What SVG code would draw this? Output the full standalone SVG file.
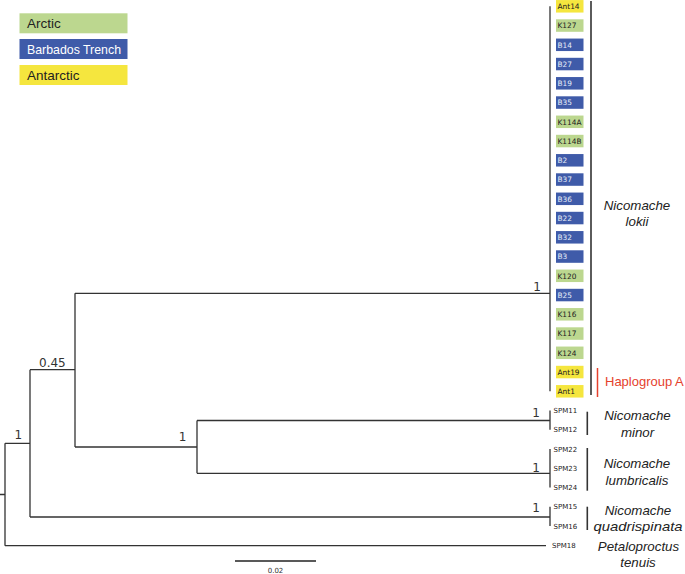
<svg xmlns="http://www.w3.org/2000/svg" width="685" height="574" viewBox="0 0 685 574">
<style>
.br{fill:none;stroke:#333;stroke-width:1.3}
.bar{fill:none;stroke:#333;stroke-width:1.6}
.lg{font-family:"Liberation Sans",Arial,sans-serif;font-size:13.5px}
.tip{font-family:"DejaVu Sans",Verdana,sans-serif;font-size:7.4px}
.spm{font-family:"DejaVu Sans",Verdana,sans-serif;font-size:7px;fill:#222}
.sup{font-family:"DejaVu Sans",Verdana,sans-serif;font-size:12px;fill:#333}
.sp{font-family:"Liberation Sans",Arial,sans-serif;font-size:13.3px;font-style:italic;fill:#222;text-anchor:middle}
.g{fill:#bcd78f}.b{fill:#3f5ba9}.y{fill:#f5e63e}
.tb{fill:#e6ecf8}.tk{fill:#222}
</style>
<rect width="685" height="574" fill="#fff"/>
<g id="legend">
<rect class="g" x="19.5" y="13.3" width="108" height="20"/>
<text class="lg" x="27" y="28.3" fill="#222">Arctic</text>
<rect class="b" x="19.5" y="39" width="108" height="20"/>
<text class="lg" x="27" y="54.2" fill="#fff" textLength="94" lengthAdjust="spacingAndGlyphs">Barbados Trench</text>
<rect class="y" x="19.5" y="65" width="108" height="20"/>
<text class="lg" x="27" y="80" fill="#222">Antarctic</text>
</g>
<g id="connectors">
<path class="br" d="M0 494.5H5M5 443.3V545.7M5 443.3H30M5 545.7H546M30 369.7V517M30 517H550M550 506.8V526.1M30 369.7H75M75 293.3V447M75 293.3H550M550 6.3V391.3M75 447H197M197 420.5V473.3M197 420.5H550M550 410.5V429.8M197 473.3H550M550 449V487.6"/>
</g>
<g id="support">
<text class="sup" x="537" y="290.5" text-anchor="middle">1</text>
<text class="sup" x="39" y="366.5">0.45</text>
<text class="sup" x="18.3" y="439.3" text-anchor="middle">1</text>
<text class="sup" x="182.5" y="441" text-anchor="middle">1</text>
<text class="sup" x="536" y="416.7" text-anchor="middle">1</text>
<text class="sup" x="536" y="471.5" text-anchor="middle">1</text>
<text class="sup" x="536" y="512.3" text-anchor="middle">1</text>
</g>
<g id="tips-lokii">
<rect class="y" x="556" y="0.05" width="27.5" height="12.5"/><text class="tip tk" x="557.5" y="9">Ant14</text>
<rect class="g" x="556" y="19.3" width="27.5" height="12.5"/><text class="tip tk" x="557.5" y="28.25">K127</text>
<rect class="b" x="556" y="38.55" width="27.5" height="12.5"/><text class="tip tb" x="557.5" y="47.5">B14</text>
<rect class="b" x="556" y="57.8" width="27.5" height="12.5"/><text class="tip tb" x="557.5" y="66.75">B27</text>
<rect class="b" x="556" y="77.05" width="27.5" height="12.5"/><text class="tip tb" x="557.5" y="86">B19</text>
<rect class="b" x="556" y="96.3" width="27.5" height="12.5"/><text class="tip tb" x="557.5" y="105.25">B35</text>
<rect class="g" x="556" y="115.55" width="27.5" height="12.5"/><text class="tip tk" x="557.5" y="124.5">K114A</text>
<rect class="g" x="556" y="134.8" width="27.5" height="12.5"/><text class="tip tk" x="557.5" y="143.75">K114B</text>
<rect class="b" x="556" y="154.05" width="27.5" height="12.5"/><text class="tip tb" x="557.5" y="163">B2</text>
<rect class="b" x="556" y="173.3" width="27.5" height="12.5"/><text class="tip tb" x="557.5" y="182.25">B37</text>
<rect class="b" x="556" y="192.55" width="27.5" height="12.5"/><text class="tip tb" x="557.5" y="201.5">B36</text>
<rect class="b" x="556" y="211.8" width="27.5" height="12.5"/><text class="tip tb" x="557.5" y="220.75">B22</text>
<rect class="b" x="556" y="231.05" width="27.5" height="12.5"/><text class="tip tb" x="557.5" y="240">B32</text>
<rect class="b" x="556" y="250.3" width="27.5" height="12.5"/><text class="tip tb" x="557.5" y="259.25">B3</text>
<rect class="g" x="556" y="269.55" width="27.5" height="12.5"/><text class="tip tk" x="557.5" y="278.5">K120</text>
<rect class="b" x="556" y="288.8" width="27.5" height="12.5"/><text class="tip tb" x="557.5" y="297.75">B25</text>
<rect class="g" x="556" y="308.05" width="27.5" height="12.5"/><text class="tip tk" x="557.5" y="317">K116</text>
<rect class="g" x="556" y="327.3" width="27.5" height="12.5"/><text class="tip tk" x="557.5" y="336.25">K117</text>
<rect class="g" x="556" y="346.55" width="27.5" height="12.5"/><text class="tip tk" x="557.5" y="355.5">K124</text>
<rect class="y" x="556" y="365.8" width="27.5" height="12.5"/><text class="tip tk" x="557.5" y="374.75">Ant19</text>
<rect class="y" x="556" y="385.05" width="27.5" height="12.5"/><text class="tip tk" x="557.5" y="394">Ant1</text>
</g>
<g id="tips-spm">
<text class="spm" x="553.5" y="413">SPM11</text>
<text class="spm" x="553.5" y="432.3">SPM12</text>
<text class="spm" x="553.5" y="451.5">SPM22</text>
<text class="spm" x="553.5" y="470.8">SPM23</text>
<text class="spm" x="553.5" y="490">SPM24</text>
<text class="spm" x="553.5" y="509.3">SPM15</text>
<text class="spm" x="553.5" y="528.5">SPM16</text>
<text class="spm" x="552" y="547.8">SPM18</text>
</g>
<g id="clade-lokii">
<line class="bar" x1="591" y1="1" x2="591" y2="395" stroke-width="2"/>
<text class="sp" x="637" y="210">Nicomache</text>
<text class="sp" x="637" y="226">lokii</text>
</g>
<g id="haplogroup-a">
<line x1="597.5" y1="368" x2="597.5" y2="397" stroke="#e5412d" stroke-width="1.5"/>
<text x="605" y="386" font-family="'Liberation Sans',Arial,sans-serif" font-size="13" fill="#e5412d">Haplogroup A</text>
</g>
<g id="clade-minor">
<line class="bar" x1="587.3" y1="411.7" x2="587.3" y2="435"/>
<text class="sp" x="637.5" y="420">Nicomache</text>
<text class="sp" x="637.5" y="437">minor</text>
</g>
<g id="clade-lumbricalis">
<line class="bar" x1="587.3" y1="448" x2="587.3" y2="490.7"/>
<text class="sp" x="637" y="468">Nicomache</text>
<text class="sp" x="637" y="484.5">lumbricalis</text>
</g>
<g id="clade-quadrispinata">
<line class="bar" x1="587.3" y1="506.7" x2="587.3" y2="530"/>
<text class="sp" x="638" y="515">Nicomache</text>
<text class="sp" x="638" y="531" textLength="89" lengthAdjust="spacingAndGlyphs">quadrispinata</text>
</g>
<g id="clade-petaloproctus">
<text class="sp" x="638.5" y="551">Petaloproctus</text>
<text class="sp" x="638" y="567">tenuis</text>
</g>
<g id="scale">
<line x1="235" y1="561" x2="316" y2="561" stroke="#222" stroke-width="1.3"/>
<text x="275.5" y="572.5" text-anchor="middle" font-family="'DejaVu Sans',Verdana,sans-serif" font-size="7" fill="#333">0.02</text>
</g>
</svg>
